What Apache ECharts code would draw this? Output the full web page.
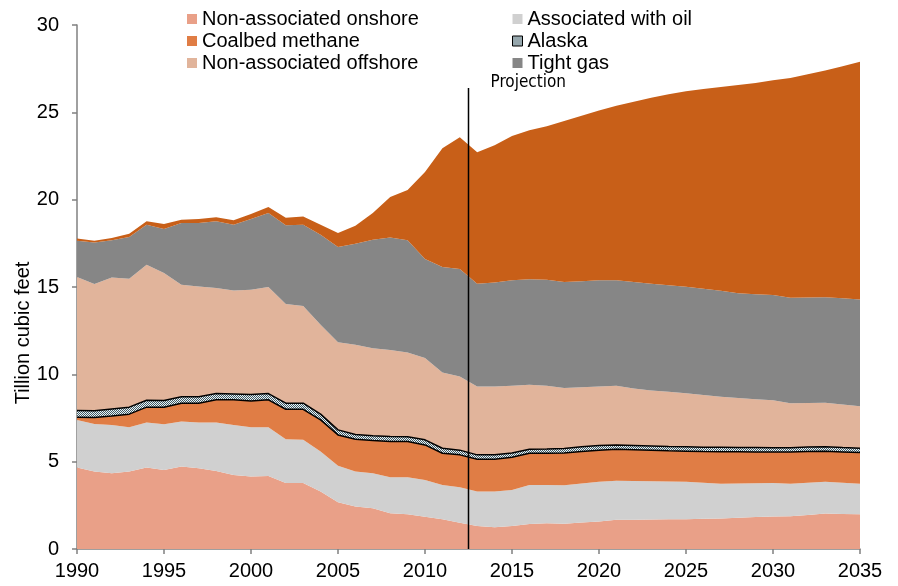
<!DOCTYPE html>
<html>
<head>
<meta charset="utf-8">
<script src="https://cdn.jsdelivr.net/npm/echarts@6/dist/echarts.min.js"></script>
<style>
  html, body { margin: 0; padding: 0; background: #fff; }
  #chart { width: 898px; height: 586px; }
</style>
</head>
<body>
<div id="chart"></div>
<script>
// years 1990..2035, trillion cubic feet
const years = [];
for (let y = 1990; y <= 2035; y++) years.push(String(y));

const onshore = [4.66, 4.43, 4.34, 4.43, 4.66, 4.53, 4.72, 4.62, 4.47, 4.24, 4.15, 4.18, 3.78, 3.78, 3.29,
  2.67, 2.43, 2.33, 2.04, 1.99, 1.85, 1.70, 1.51, 1.32, 1.24, 1.32, 1.43, 1.47, 1.45, 1.52,
  1.58, 1.67, 1.68, 1.69, 1.70, 1.71, 1.73, 1.75, 1.79, 1.83, 1.86, 1.88, 1.95, 2.03, 2.01, 1.99];
const associated = [2.73, 2.73, 2.76, 2.54, 2.58, 2.61, 2.58, 2.62, 2.77, 2.86, 2.82, 2.79, 2.50, 2.47, 2.29,
  2.09, 2.00, 2.01, 2.07, 2.12, 2.10, 1.97, 2.02, 1.97, 2.05, 2.06, 2.24, 2.20, 2.20, 2.23,
  2.27, 2.24, 2.22, 2.19, 2.17, 2.14, 2.07, 1.99, 1.96, 1.94, 1.92, 1.86, 1.85, 1.82, 1.79, 1.75];
const coalbed = [0.15, 0.37, 0.52, 0.75, 0.88, 0.98, 1.05, 1.11, 1.30, 1.44, 1.51, 1.57, 1.72, 1.75, 1.81,
  1.77, 1.85, 1.87, 2.04, 2.04, 2.01, 1.81, 1.86, 1.85, 1.85, 1.87, 1.81, 1.81, 1.85, 1.83,
  1.81, 1.80, 1.78, 1.77, 1.75, 1.75, 1.78, 1.83, 1.82, 1.79, 1.78, 1.81, 1.78, 1.75, 1.76, 1.78];
const alaska = [0.39, 0.39, 0.40, 0.40, 0.40, 0.38, 0.37, 0.37, 0.36, 0.34, 0.36, 0.36, 0.35, 0.35, 0.33,
  0.29, 0.27, 0.27, 0.29, 0.27, 0.29, 0.29, 0.27, 0.25, 0.25, 0.25, 0.23, 0.24, 0.26, 0.27,
  0.26, 0.25, 0.25, 0.25, 0.25, 0.25, 0.25, 0.25, 0.24, 0.25, 0.24, 0.25, 0.26, 0.26, 0.25, 0.25];
const offshore = [7.64, 7.25, 7.53, 7.35, 7.75, 7.30, 6.41, 6.31, 6.04, 5.92, 6.00, 6.10, 5.68, 5.56, 5.12,
  5.02, 5.14, 5.02, 4.96, 4.83, 4.68, 4.33, 4.22, 3.91, 3.91, 3.84, 3.69, 3.62, 3.46, 3.41,
  3.38, 3.38, 3.26, 3.18, 3.13, 3.06, 2.99, 2.90, 2.84, 2.77, 2.71, 2.54, 2.52, 2.52, 2.47, 2.40];
const tightGas = [2.08, 2.38, 2.12, 2.39, 2.30, 2.52, 3.53, 3.63, 3.82, 3.77, 4.05, 4.24, 4.51, 4.66, 5.15,
  5.45, 5.79, 6.21, 6.44, 6.42, 5.67, 6.04, 6.15, 5.89, 5.96, 6.04, 6.05, 6.08, 6.06, 6.07,
  6.09, 6.05, 6.09, 6.10, 6.10, 6.10, 6.08, 6.07, 5.99, 6.01, 6.03, 6.05, 6.04, 6.03, 6.07, 6.11];
const shaleGas = [0.12, 0.10, 0.13, 0.19, 0.19, 0.28, 0.19, 0.23, 0.24, 0.25, 0.29, 0.34, 0.43, 0.47, 0.58,
  0.80, 1.02, 1.52, 2.31, 2.88, 4.98, 6.81, 7.55, 7.53, 7.86, 8.26, 8.53, 8.79, 9.22, 9.47,
  9.71, 9.99, 10.32, 10.66, 10.94, 11.19, 11.44, 11.66, 11.92, 12.09, 12.30, 12.58, 12.78, 12.99, 13.29, 13.62];

// projection starts between 2012 and 2013
const projectionFrom = ['2012', '2013'];
const projectionTop = 26.4;

// fine checkered fill for Alaska
function checker() {
  const c = document.createElement('canvas');
  c.width = 2; c.height = 2;
  const g = c.getContext('2d');
  g.fillStyle = '#e2f8fb'; g.fillRect(0, 0, 2, 2);
  g.fillStyle = '#4a5660';
  g.fillRect(0, 0, 1, 1); g.fillRect(1, 1, 1, 1);
  return c;
}
const alaskaFill = { image: checker(), repeat: 'repeat' };

const font = 'Arial, "Liberation Sans", sans-serif';

function area(name, data, color, extra) {
  return Object.assign({
    name: name,
    type: 'line',
    stack: 'total',
    data: data,
    showSymbol: false,
    symbol: 'none',
    lineStyle: { width: 0 },
    areaStyle: { color: color, opacity: 1 },
    itemStyle: { color: color },
    emphasis: { disabled: true },
    z: 2
  }, extra || {});
}

const chart = echarts.init(document.getElementById('chart'));
chart.setOption({
  animation: false,
  grid: { left: 77, right: 38, top: 25, bottom: 37 },
  legend: [
    {
      left: 187, top: 8, orient: 'vertical', padding: 0, itemGap: 0,
      itemWidth: 10, itemHeight: 10, icon: 'rect',
      textStyle: { fontSize: 20, fontFamily: font, color: '#000', lineHeight: 22 },
      data: ['Non-associated onshore', 'Coalbed methane', 'Non-associated offshore']
    },
    {
      left: 512, top: 8, orient: 'vertical', padding: 0, itemGap: 0,
      itemWidth: 10, itemHeight: 10, icon: 'rect',
      textStyle: { fontSize: 20, fontFamily: font, color: '#000', lineHeight: 22 },
      data: ['Associated with oil',
        { name: 'Alaska', itemStyle: { color: alaskaFill, borderColor: '#000', borderWidth: 1 } },
        'Tight gas']
    }
  ],
  xAxis: {
    type: 'category', data: years, boundaryGap: false,
    axisLine: { lineStyle: { color: '#808080', width: 1.5 } },
    axisTick: { length: 5, interval: 4, lineStyle: { color: '#808080', width: 1.5 } },
    axisLabel: { interval: 4, fontSize: 20, fontFamily: font, color: '#000', margin: 12 },
    splitLine: { show: false }
  },
  yAxis: {
    type: 'value', min: 0, max: 30, interval: 5,
    axisLine: { show: true, lineStyle: { color: '#808080', width: 1.5 } },
    axisTick: { show: true, length: 5, lineStyle: { color: '#808080', width: 1.5 } },
    axisLabel: { fontSize: 20, fontFamily: font, color: '#000', margin: 18 },
    splitLine: { show: false }
  },
  series: [
    area('Non-associated onshore', onshore, '#e9a088'),
    area('Associated with oil', associated, '#d0d0d0'),
    area('Coalbed methane', coalbed, '#e07d45', { lineStyle: { width: 1.5, color: '#000' }, z: 4 }),
    area('Alaska', alaska, alaskaFill, {
      lineStyle: { width: 1.5, color: '#000' }, z: 3,
      itemStyle: { color: '#000' }
    }),
    area('Non-associated offshore', offshore, '#e1b49b'),
    area('Tight gas', tightGas, '#868686'),
    area('Shale gas', shaleGas, '#c85f18')
  ]
});

// projection divider and axis title
const a = chart.convertToPixel({ gridIndex: 0 }, [projectionFrom[0], 0]);
const b = chart.convertToPixel({ gridIndex: 0 }, [projectionFrom[1], projectionTop]);
const px = (a[0] + b[0]) / 2;
chart.setOption({
  graphic: [
    {
      type: 'line', z: 10,
      shape: { x1: px, y1: a[1], x2: px, y2: b[1] },
      style: { stroke: '#000', lineWidth: 1.5 }
    },
    {
      type: 'text', x: px + 22, y: b[1] - 5, z: 10,
      style: { text: 'Projection', fontSize: 17, fontFamily: '"Liberation Sans Narrow", "DejaVu Sans Condensed", sans-serif',
        fill: '#000', align: 'left', verticalAlign: 'middle' }
    },
    {
      type: 'text', x: 23, y: 333, rotation: Math.PI / 2,
      style: { text: 'Tillion cubic feet', fontSize: 20, fontFamily: font, fill: '#000',
        align: 'center', verticalAlign: 'middle' }
    }
  ]
});
</script>
</body>
</html>
